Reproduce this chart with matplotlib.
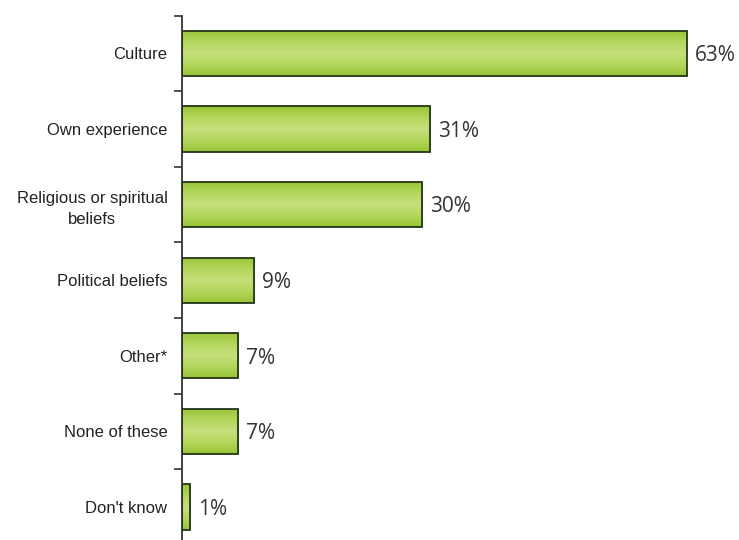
import numpy as np
import matplotlib.pyplot as plt
from matplotlib.colors import LinearSegmentedColormap

# Survey answers and shares (%)
categories = ["Culture", "Own experience", "Religious or spiritual\nbeliefs",
              "Political beliefs", "Other*", "None of these", "Don't know"]
values = [63, 31, 30, 9, 7, 7, 1]
value_labels = ["63%", "31%", "30%", "9%", "7%", "7%", "1%"]

fig = plt.figure(figsize=(7.39, 5.40), dpi=100)
ax = fig.add_axes([182 / 739, -4.8 / 540, 557 / 739, 529.2 / 540])

y = np.arange(len(categories))
bars = ax.barh(y, values, height=0.6, color="none", edgecolor="#25341a",
               linewidth=1.3, zorder=3)

# vertical green gradient inside each bar: darker rims, lighter middle
green = LinearSegmentedColormap.from_list(
    "grn", ["#98c537", "#b4d65c", "#c6df7c", "#b4d65c", "#98c537"])
grad = np.linspace(0, 1, 64).reshape(-1, 1)
for b in bars:
    x0, y0 = b.get_x(), b.get_y()
    w, h = b.get_width(), b.get_height()
    im = ax.imshow(grad, cmap=green, aspect="auto", zorder=2,
                   extent=[x0, x0 + w, y0 + h, y0], interpolation="bicubic")
    im.set_clip_path(b)

for yi, v, lab in zip(y, values, value_labels):
    ax.text(v + 1.0, yi + 0.03, lab, va="center", ha="left", fontsize=15,
            family="Open Sans", color="#333333")

ax.set_xlim(0, 69.5)
ax.set_ylim(len(categories) - 0.5, -0.5)

# ticks sit on the category boundaries, labels centred on the bars
ax.set_yticks(np.arange(len(categories) + 1) - 0.5)
ax.set_yticklabels([])
ax.set_yticks(y, minor=True)
ax.set_yticklabels(categories, minor=True, fontsize=12,
                   family="Liberation Sans", color="#222222",
                   multialignment="center")
for t in ax.get_yticklabels(minor=True):
    t.set_linespacing(1.45)
ax.tick_params(axis="y", which="major", length=6, width=1.2, color="#333333",
               direction="out")
ax.tick_params(axis="y", which="minor", length=0, pad=10.5)

ax.set_xticks([])
for side in ["top", "right", "bottom"]:
    ax.spines[side].set_visible(False)
ax.spines["left"].set_color("#333333")
ax.spines["left"].set_linewidth(1.3)

fig.savefig("out.png", dpi=100)
